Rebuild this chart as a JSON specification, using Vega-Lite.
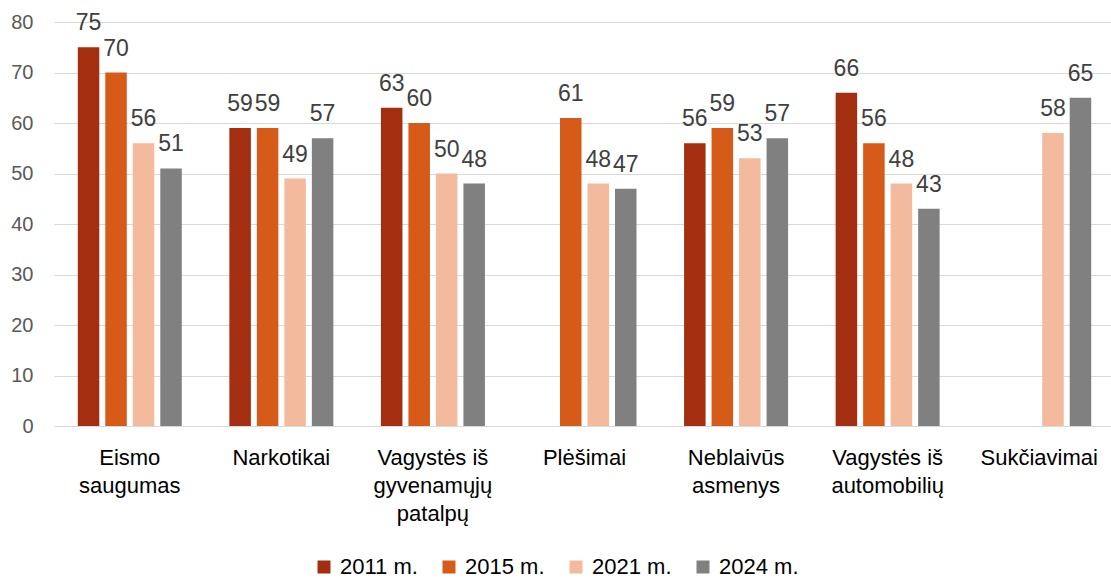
{
  "$schema": "https://vega.github.io/schema/vega-lite/v6.json",
  "autosize": {"type": "none"},
  "width": 1048,
  "height": 404,
  "padding": {"left": 54, "top": 22, "right": 9, "bottom": 152},
  "background": "white",
  "config": {
    "font": "Liberation Sans",
    "view": {"stroke": null}
  },
  "data": {
    "values": [
      {"cat": "Eismo saugumas", "year": "2011 m.", "v": 75},
      {"cat": "Eismo saugumas", "year": "2015 m.", "v": 70},
      {"cat": "Eismo saugumas", "year": "2021 m.", "v": 56},
      {"cat": "Eismo saugumas", "year": "2024 m.", "v": 51},
      {"cat": "Narkotikai", "year": "2011 m.", "v": 59},
      {"cat": "Narkotikai", "year": "2015 m.", "v": 59},
      {"cat": "Narkotikai", "year": "2021 m.", "v": 49},
      {"cat": "Narkotikai", "year": "2024 m.", "v": 57},
      {"cat": "Vagystės iš gyvenamųjų patalpų", "year": "2011 m.", "v": 63},
      {"cat": "Vagystės iš gyvenamųjų patalpų", "year": "2015 m.", "v": 60},
      {"cat": "Vagystės iš gyvenamųjų patalpų", "year": "2021 m.", "v": 50},
      {"cat": "Vagystės iš gyvenamųjų patalpų", "year": "2024 m.", "v": 48},
      {"cat": "Plėšimai", "year": "2015 m.", "v": 61},
      {"cat": "Plėšimai", "year": "2021 m.", "v": 48},
      {"cat": "Plėšimai", "year": "2024 m.", "v": 47},
      {"cat": "Neblaivūs asmenys", "year": "2011 m.", "v": 56},
      {"cat": "Neblaivūs asmenys", "year": "2015 m.", "v": 59},
      {"cat": "Neblaivūs asmenys", "year": "2021 m.", "v": 53},
      {"cat": "Neblaivūs asmenys", "year": "2024 m.", "v": 57},
      {"cat": "Vagystės iš automobilių", "year": "2011 m.", "v": 66},
      {"cat": "Vagystės iš automobilių", "year": "2015 m.", "v": 56},
      {"cat": "Vagystės iš automobilių", "year": "2021 m.", "v": 48},
      {"cat": "Vagystės iš automobilių", "year": "2024 m.", "v": 43},
      {"cat": "Sukčiavimai", "year": "2021 m.", "v": 58},
      {"cat": "Sukčiavimai", "year": "2024 m.", "v": 65}
    ]
  },
  "encoding": {
    "x": {
      "field": "cat",
      "type": "nominal",
      "sort": null,
      "title": null,
      "scale": {"range": [0, 1061], "paddingInner": 0, "paddingOuter": 0},
      "axis": {
        "domain": false,
        "ticks": false,
        "tickSize": 0,
        "grid": false,
        "labelAngle": 0,
        "labelFontSize": 22,
        "labelColor": "#000000",
        "labelPadding": 21,
        "labelBaseline": "top",
        "labelLineHeight": 28,
        "labelLimit": 0,
        "labelExpr": "datum.value == 'Eismo saugumas' ? ['Eismo','saugumas'] : datum.value == 'Vagystės iš gyvenamųjų patalpų' ? ['Vagystės iš','gyvenamųjų','patalpų'] : datum.value == 'Neblaivūs asmenys' ? ['Neblaivūs','asmenys'] : datum.value == 'Vagystės iš automobilių' ? ['Vagystės iš','automobilių'] : datum.label"
      }
    },
    "xOffset": {
      "field": "year",
      "type": "nominal",
      "scale": {"domain": ["2011 m.", "2015 m.", "2021 m.", "2024 m."], "paddingInner": 0.218, "paddingOuter": 0.865}
    },
    "y": {
      "field": "v",
      "type": "quantitative",
      "title": null,
      "scale": {"domain": [0, 80], "nice": false},
      "axis": {
        "values": [0, 10, 20, 30, 40, 50, 60, 70, 80],
        "domain": false,
        "ticks": false,
        "tickSize": 0,
        "grid": true,
        "gridColor": "#d9d9d9",
        "gridWidth": 1,
        "labelFontSize": 20,
        "labelColor": "#595959",
        "labelPadding": 21
      }
    }
  },
  "layer": [
    {
      "mark": {"type": "bar"},
      "encoding": {
        "color": {
          "field": "year",
          "type": "nominal",
          "scale": {
            "domain": ["2011 m.", "2015 m.", "2021 m.", "2024 m."],
            "range": ["#A32E10", "#D65A18", "#F4BA9D", "#808080"]
          },
          "legend": {
            "title": null,
            "orient": "none",
            "legendX": 259,
            "legendY": 534,
            "direction": "horizontal",
            "symbolType": "square",
            "symbolSize": 169,
            "symbolStrokeWidth": 0,
            "labelFontSize": 22,
            "labelColor": "#000000",
            "labelOffset": 5,
            "columnPadding": 20,
            "padding": 0
          }
        }
      }
    },
    {
      "mark": {"type": "text", "baseline": "alphabetic", "align": "center", "dy": -17, "fontSize": 23, "color": "#404040"},
      "encoding": {
        "text": {"field": "v", "type": "quantitative"}
      }
    }
  ]
}
